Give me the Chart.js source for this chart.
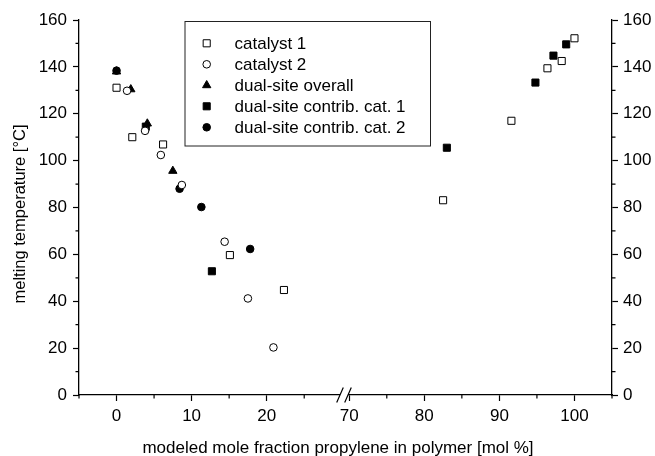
<!DOCTYPE html>
<html>
<head>
<meta charset="utf-8">
<script src="https://cdn.jsdelivr.net/npm/chart.js@4.4.1/dist/chart.umd.min.js"></script>
<style>
  html, body { margin: 0; padding: 0; background: #fff; }
  #wrap { width: 655px; height: 456px; }
</style>
</head>
<body>
<div id="wrap"><canvas id="chart" width="655" height="456"></canvas></div>
<script>
// values: x = mol % propylene, y = melting temperature (°C)
const cat1X = [0, 2.1, 6.2, 15.1, 22.3, 82.5, 91.6, 96.4, 98.3, 100.0];
const cat1Y = [131.1, 110.0, 106.9, 59.7, 44.8, 83.1, 117.0, 139.4, 142.5, 152.2];

const cat2X = [1.4, 3.8, 5.9, 8.7, 14.4, 17.5, 20.9];
const cat2Y = [129.8, 112.7, 102.4, 89.6, 65.4, 41.2, 20.3];

const dualX = [0, 1.9, 4.1, 7.5];
const dualY = [138.0, 130.4, 115.8, 95.6];

const dual1X = [3.9, 12.7, 83.0, 94.8, 97.2, 98.9];
const dual1Y = [114.5, 52.8, 105.5, 133.3, 144.8, 149.6];

const dual2X = [0, 8.4, 11.3, 17.8];
const dual2Y = [138.4, 88.0, 80.2, 62.3];

// axis ticks (the x axis is broken between the two segments)
const xLeftTicks = [-5, 0, 5, 10, 15, 20, 25];
const xRightTicks = [70, 75, 80, 85, 90, 95, 100, 105];
const yTicks = [0, 10, 20, 30, 40, 50, 60, 70, 80, 90, 100, 110, 120, 130, 140, 150, 160];

const FONT = '"Liberation Sans", Arial, sans-serif';
const BREAK_AT = 50;

const series = [
  { label: 'catalyst 1', xs: cat1X, ys: cat1Y, style: 'rect', radius: 5, filled: false },
  { label: 'catalyst 2', xs: cat2X, ys: cat2Y, style: 'circle', radius: 3.8, filled: false },
  { label: 'dual-site overall', xs: dualX, ys: dualY, style: 'triangle', radius: 4.8, filled: true },
  { label: 'dual-site contrib. cat. 1', xs: dual1X, ys: dual1Y, style: 'rect', radius: 5, filled: true },
  { label: 'dual-site contrib. cat. 2', xs: dual2X, ys: dual2Y, style: 'circle', radius: 3.8, filled: true }
];

function points(xs, ys, right) {
  const out = [];
  xs.forEach((x, i) => {
    if ((x > BREAK_AT) === right) out.push({ x: x, y: ys[i] });
  });
  return out;
}

const datasets = [];
series.forEach(s => {
  [false, true].forEach(right => {
    const data = points(s.xs, s.ys, right);
    if (!data.length) return;
    datasets.push({
      label: s.label,
      data: data,
      xAxisID: right ? 'xr' : 'xl',
      yAxisID: 'y',
      pointStyle: s.style,
      pointRadius: s.radius,
      pointHoverRadius: s.radius,
      pointBackgroundColor: s.filled ? '#000' : '#fff',
      pointBorderColor: '#000',
      pointBorderWidth: 1
    });
  });
});

const tickFont = { family: FONT, size: 17 };

function xAxis(ticks, min, max) {
  return {
    type: 'linear',
    position: 'bottom',
    stack: 'x',
    stackWeight: 1,
    min: min,
    max: max,
    afterBuildTicks: sc => { sc.ticks = ticks.map(v => ({ value: v })); },
    afterFit: sc => { sc.height = 61; },
    grid: {
      drawOnChartArea: false,
      tickLength: 6,
      tickWidth: 1.2,
      tickColor: c => (c.tick && c.tick.value % 10 === 0) ? '#000' : 'rgba(0,0,0,0)'
    },
    border: { color: '#000', width: 1.3 },
    ticks: {
      autoSkip: false,
      maxRotation: 0,
      padding: 5,
      color: '#000',
      font: tickFont,
      callback: v => (v % 10 === 0 && v >= 0) ? v : ''
    }
  };
}

function yAxis(pos, width) {
  return {
    type: 'linear',
    position: pos,
    min: 0,
    max: 160,
    afterBuildTicks: sc => { sc.ticks = yTicks.map(v => ({ value: v })); },
    afterFit: sc => { sc.width = width; },
    grid: {
      drawOnChartArea: false,
      tickLength: 6,
      tickWidth: 1.2,
      tickColor: c => (c.tick && c.tick.value % 20 === 0) ? '#000' : 'rgba(0,0,0,0)'
    },
    border: { color: '#000', width: 1.3 },
    ticks: {
      autoSkip: false,
      padding: pos === 'left' ? 6 : 5,
      color: '#000',
      font: tickFont,
      callback: v => v % 20 === 0 ? v : ''
    }
  };
}

// minor ticks, axis break, legend box and axis titles
const extras = {
  id: 'extras',
  afterDraw(chart) {
    const ctx = chart.ctx;
    const area = chart.chartArea;
    const s = chart.scales;
    ctx.save();
    ctx.strokeStyle = '#000';
    ctx.lineWidth = 1.2;

    // minor ticks
    ctx.beginPath();
    [['xl', xLeftTicks], ['xr', xRightTicks]].forEach(([id, ticks]) => {
      ticks.filter(v => v % 10 !== 0).forEach(v => {
        const px = s[id].getPixelForValue(v);
        ctx.moveTo(px, area.bottom);
        ctx.lineTo(px, area.bottom + 3.5);
      });
    });
    yTicks.filter(v => v % 20 !== 0).forEach(v => {
      const py = s.y.getPixelForValue(v);
      ctx.moveTo(area.left - 3.5, py);
      ctx.lineTo(area.left, py);
      ctx.moveTo(area.right, py);
      ctx.lineTo(area.right + 3.5, py);
    });
    ctx.stroke();

    // axis break
    const xb = s.xl.right;
    const yb = area.bottom;
    ctx.fillStyle = '#fff';
    ctx.fillRect(xb - 5.5, yb - 2, 8, 4);
    ctx.beginPath();
    [xb - 5.5, xb + 2.5].forEach(cx => {
      ctx.moveTo(cx - 3.3, yb + 7.5);
      ctx.lineTo(cx + 3.3, yb - 7.5);
    });
    ctx.stroke();

    // legend box
    const bx = 185, by = 21.5, bw = 245.5, bh = 124.5;
    ctx.lineWidth = 1;
    ctx.strokeStyle = '#222';
    ctx.strokeRect(bx, by, bw, bh);
    ctx.font = '17px ' + FONT;
    ctx.textBaseline = 'middle';
    ctx.textAlign = 'left';
    series.forEach((sr, i) => {
      const ry = 43.3 + i * 21;
      ctx.fillStyle = sr.filled ? '#000' : '#fff';
      ctx.strokeStyle = '#000';
      ctx.lineWidth = 1;
      Chart.helpers.drawPoint(ctx, { pointStyle: sr.style, radius: sr.radius, borderWidth: 1, rotation: 0 }, 206.7, ry);
      ctx.fillStyle = '#000';
      ctx.fillText(sr.label, 234.5, ry + 1);
    });

    // x axis title, centred under both segments
    ctx.font = '17px ' + FONT;
    ctx.textAlign = 'center';
    ctx.textBaseline = 'alphabetic';
    ctx.fillStyle = '#000';
    ctx.fillText('modeled mole fraction propylene in polymer [mol %]', 338, 452.5);

    // y axis title
    ctx.translate(20.5, 214);
    ctx.rotate(-Math.PI / 2);
    ctx.font = '16.5px ' + FONT;
    ctx.textBaseline = 'middle';
    ctx.fillText('melting temperature [°C]', 0, 0);
    ctx.restore();
  }
};

new Chart(document.getElementById('chart'), {
  type: 'scatter',
  data: { datasets: datasets },
  options: {
    responsive: false,
    animation: false,
    layout: { padding: { top: 20, left: 0, right: 0, bottom: 0 } },
    plugins: { legend: { display: false }, tooltip: { enabled: false } },
    scales: {
      xl: xAxis(xLeftTicks, -5, 30.5),
      xr: xAxis(xRightTicks, 69.5, 105),
      y: yAxis('left', 79),
      y2: yAxis('right', 43)
    }
  },
  plugins: [extras]
});
</script>
</body>
</html>
